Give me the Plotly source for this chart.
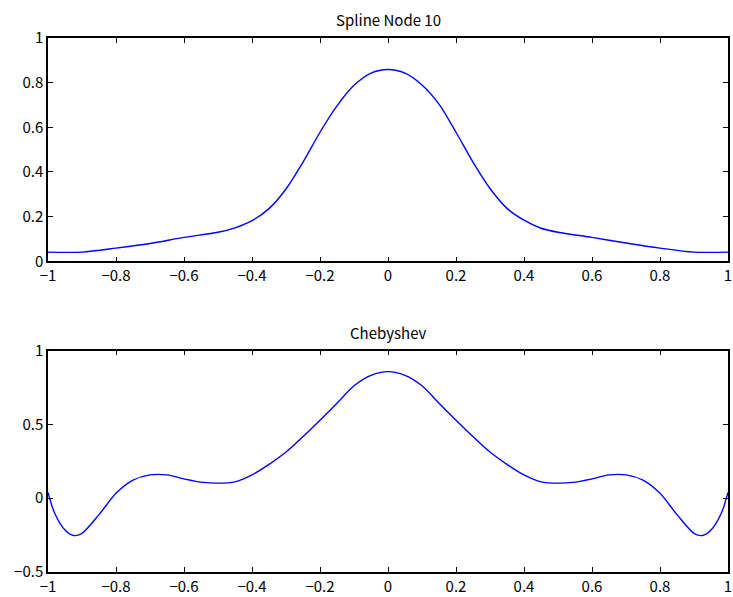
import plotly.graph_objects as go

# Top panel: spline interpolation (10 nodes)
x_spline = [-1.0, -0.9, -0.8, -0.7, -0.6, -0.5, -0.45, -0.4, -0.35, -0.3, -0.25, -0.2, -0.15, -0.1, -0.05, 0.0,
            0.05, 0.1, 0.15, 0.2, 0.25, 0.3, 0.35, 0.4, 0.45, 0.5, 0.6, 0.7, 0.8, 0.9, 1.0]
y_spline = [0.041, 0.041, 0.059, 0.080, 0.107, 0.130, 0.150, 0.182, 0.236, 0.324, 0.444, 0.578, 0.696, 0.788, 0.843, 0.859,
            0.843, 0.790, 0.704, 0.578, 0.444, 0.326, 0.237, 0.184, 0.148, 0.130, 0.107, 0.082, 0.059, 0.041, 0.041]

# Bottom panel: Chebyshev interpolation
x_cheb = [-1.0, -0.98, -0.95, -0.925, -0.9, -0.85, -0.8, -0.75, -0.7, -0.65, -0.6, -0.55, -0.5, -0.45, -0.4, -0.35,
          -0.3, -0.25, -0.2, -0.15, -0.1, -0.05, 0.0, 0.05, 0.1, 0.15, 0.2, 0.25, 0.3, 0.35, 0.4, 0.45, 0.5,
          0.55, 0.6, 0.65, 0.7, 0.75, 0.8, 0.85, 0.9, 0.925, 0.95, 0.98, 1.0]
y_cheb = [0.04, -0.104, -0.216, -0.253, -0.238, -0.111, 0.033, 0.122, 0.158, 0.158, 0.131, 0.109, 0.102, 0.111, 0.158, 0.229,
          0.313, 0.418, 0.529, 0.644, 0.762, 0.833, 0.858, 0.833, 0.762, 0.644, 0.529, 0.418, 0.313, 0.229, 0.158, 0.111, 0.102,
          0.109, 0.131, 0.158, 0.158, 0.122, 0.033, -0.111, -0.238, -0.253, -0.216, -0.104, 0.04]

x_ticks = [-1, -0.8, -0.6, -0.4, -0.2, 0, 0.2, 0.4, 0.6, 0.8, 1]
x_tick_labels = ["\u22121", "\u22120.8", "\u22120.6", "\u22120.4", "\u22120.2", "0", "0.2", "0.4", "0.6", "0.8", "1"]
y1_ticks = [0, 0.2, 0.4, 0.6, 0.8, 1]
y1_tick_labels = ["0", "0.2", "0.4", "0.6", "0.8", "1"]
y2_ticks = [-0.5, 0, 0.5, 1]
y2_tick_labels = ["\u22120.5", "0", "0.5", "1"]

titles = ["Spline Node 10", "Chebyshev"]

FONT = "Noto Sans CJK JP"
TICK_SIZE = 15
fig = go.Figure()
fig.add_trace(go.Scatter(x=x_spline, y=y_spline, mode="lines", line=dict(color="#0000FF", width=1.4, shape="spline", smoothing=0.8),
                         xaxis="x", yaxis="y", showlegend=False))
fig.add_trace(go.Scatter(x=x_cheb, y=y_cheb, mode="lines", line=dict(color="#0000FF", width=1.4, shape="spline", smoothing=0.8),
                         xaxis="x2", yaxis="y2", showlegend=False))

axis_common = dict(showline=True, linecolor="black", linewidth=1.5, mirror="ticks", ticks="inside", ticklen=5,
                   tickcolor="black", tickwidth=1, showgrid=False, zeroline=False,
                   tickfont=dict(family=FONT, size=TICK_SIZE, color="black"))

fig.update_layout(
    width=733, height=597,
    paper_bgcolor="white", plot_bgcolor="white",
    margin=dict(l=48, r=1, t=38, b=21),
    xaxis=dict(domain=[0, 1], anchor="y", range=[-1, 1], tickvals=x_ticks, ticktext=x_tick_labels,
               ticklabeloverflow="allow", **axis_common),
    yaxis=dict(domain=[0.5818, 1], anchor="x", range=[0, 1], tickvals=y1_ticks, ticktext=y1_tick_labels, **axis_common),
    xaxis2=dict(domain=[0, 1], anchor="y2", range=[-1, 1], tickvals=x_ticks, ticktext=x_tick_labels,
                ticklabeloverflow="allow", **axis_common),
    yaxis2=dict(domain=[0, 0.4145], anchor="x2", range=[-0.5, 1], tickvals=y2_ticks, ticktext=y2_tick_labels, **axis_common),
    annotations=[
        dict(text=titles[0], x=0.5, y=1, xref="paper", yref="paper", xanchor="center", yanchor="bottom", yshift=6,
             showarrow=False, font=dict(family=FONT, size=15, color="black")),
        dict(text=titles[1], x=0.5, y=0.4145, xref="paper", yref="paper", xanchor="center", yanchor="bottom", yshift=6,
             showarrow=False, font=dict(family=FONT, size=15, color="black")),
    ],
)

fig.write_html("out.html", config={"displayModeBar": False},
               post_script="document.body.style.margin='0';document.body.style.overflow='hidden';")
